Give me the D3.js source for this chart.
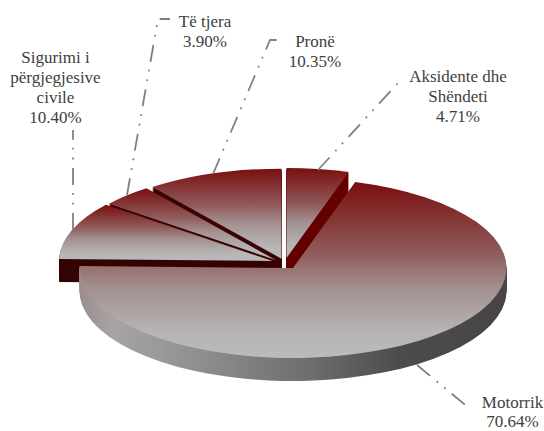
<!DOCTYPE html>
<html>
<head>
<meta charset="utf-8">
<script src="https://cdn.jsdelivr.net/npm/d3@7/dist/d3.min.js"></script>
<style>
html,body{margin:0;padding:0;background:#fff;overflow:hidden}
svg{display:block}
text{font-family:"Liberation Serif",serif;font-size:17px;fill:#404040;text-anchor:middle}
</style>
</head>
<body>
<script>
// data
const categories = [["Aksidente dhe","Shëndeti"],["Motorrik"],["Sigurimi i","përgjegjesive","civile"],["Të tjera"],["Pronë"]];
const shares = [4.71, 70.64, 10.40, 3.90, 10.35];

// layout (one entry per slice, same order as the data)
const centres = [[286.5,258],[293,268],[272.5,261],[275.7,260],[281.5,258.7]];
const wallColours = ["#640000","url(#motWall)","#360303","#3a0505","#3a0505"];
const labelX = [458,512.5,55.5,205,315];
const labelY = [82,408,63,27,47];
const lineGap = [20,19,20,20,20];
const leaders = [
  [[318,170],[398,83]],
  [[417,365],[464,404],[470,405]],
  [[73,230],[73,130]],
  [[127,195],[158,19],[170,19]],
  [[213,174],[270,40],[281,40]]
];
const drawOrder = [4,3,2,0,1];
const rx = 213.5, ry = 90, depth = 23;

const svg = d3.select("body").append("svg").attr("width",544).attr("height",431);
const defs = svg.append("defs");

const topGrad = defs.append("linearGradient").attr("id","topFace").attr("x1",0).attr("y1",0).attr("x2",0).attr("y2",1);
[[0,"#7a0e0e"],[0.4,"#8f5a5a"],[0.6,"#a38f8f"],[0.85,"#b6b4b4"],[1,"#bbbbbb"]]
  .forEach(([o,c])=>topGrad.append("stop").attr("offset",o).attr("stop-color",c));

const wallGrad = defs.append("linearGradient").attr("id","motWall").attr("x1",0).attr("y1",0).attr("x2",1).attr("y2",0);
[[0,"#9a8e8e"],[0.08,"#a8a4a4"],[0.3,"#8c8c8c"],[0.55,"#6c6c6c"],[0.75,"#4c4c4c"],[1,"#484444"]]
  .forEach(([o,c])=>wallGrad.append("stop").attr("offset",o).attr("stop-color",c));

const pie = d3.pie().sort(null).value(d=>d)(shares);
const arc = d3.arc().innerRadius(0).outerRadius(rx);
const squash = ry/rx;

const slices = svg.append("g");
drawOrder.forEach(i=>{
  const [cx,cy] = centres[i];
  const g = slices.append("g");
  g.selectAll("path.wall").data(d3.range(depth,0,-1)).join("path")
    .attr("class","wall")
    .attr("transform",k=>`translate(${cx},${cy+k}) scale(1,${squash})`)
    .attr("d",arc(pie[i]))
    .attr("fill",wallColours[i]);
  g.append("path")
    .attr("transform",`translate(${cx},${cy}) scale(1,${squash})`)
    .attr("d",arc(pie[i]))
    .attr("fill","url(#topFace)");
});

const line = d3.line();
svg.append("g").selectAll("path").data(leaders).join("path")
  .attr("d",line).attr("fill","none")
  .attr("stroke","#808080").attr("stroke-width",1.8)
  .attr("stroke-dasharray","17 8.5 1.8 8 1.8 8");

const fmt = d3.format(".2f");
const labels = svg.append("g");
categories.forEach((lines,i)=>{
  const t = labels.append("text").attr("x",labelX[i]).attr("y",labelY[i]);
  [...lines, fmt(shares[i])+"%"].forEach((s,j)=>{
    t.append("tspan").attr("x",labelX[i]).attr("dy",j?lineGap[i]:0).text(s);
  });
});
</script>
</body>
</html>
